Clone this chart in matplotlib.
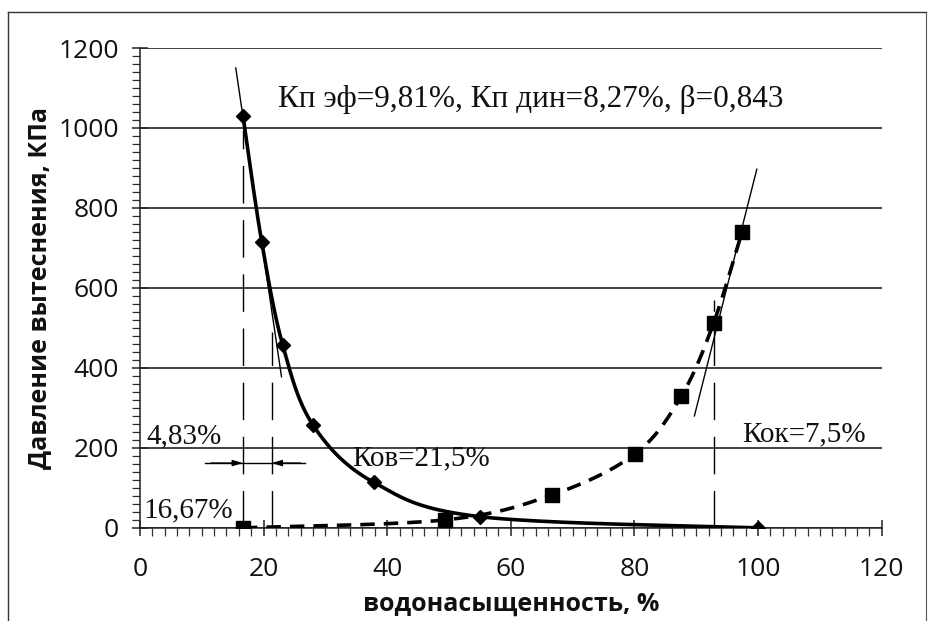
import numpy as np
import matplotlib
matplotlib.use("Agg")
import matplotlib.pyplot as plt
from matplotlib.lines import Line2D

# ---------------- data ----------------
# drainage curve (diamonds)
sw_drain = [16.67, 19.7, 23.1, 28.0, 37.8, 55.0, 100.0]
p_drain = [1030, 715, 457, 257, 114, 28, 0]
# imbibition curve (squares)
sw_imb = [16.67, 49.4, 66.6, 80.1, 87.6, 92.8, 97.4]
p_imb = [0, 20, 82, 185, 330, 512, 740]

x_ticks = [0, 20, 40, 60, 80, 100, 120]
y_ticks = [0, 200, 400, 600, 800, 1000, 1200]

sw_irr = 16.67      # residual water line
sw_kov = 21.3       # Kov line
sw_kok = 92.8       # Kok line

title_txt = "Кп эф=9,81%, Кп дин=8,27%, β=0,843"
xlabel_txt = "водонасыщенность, %"
ylabel_txt = "Давление вытеснения, КПа"


def catmull_rom(xs, ys, n=40):
    P = np.column_stack([xs, ys]).astype(float)
    P = np.vstack([P[0], P, P[-1]])
    out = []
    t = np.linspace(0, 1, n)[:, None]
    for i in range(1, len(P) - 2):
        p0, p1, p2, p3 = P[i - 1], P[i], P[i + 1], P[i + 2]
        seg = 0.5 * ((2 * p1) + (-p0 + p2) * t
                     + (2 * p0 - 5 * p1 + 4 * p2 - p3) * t ** 2
                     + (-p0 + 3 * p1 - 3 * p2 + p3) * t ** 3)
        out.append(seg)
    return np.vstack(out)


SANS = ["Open Sans", "DejaVu Sans"]
SERIF = ["Liberation Serif", "DejaVu Serif"]

fig = plt.figure(figsize=(9.33, 6.21), dpi=100)
ax = fig.add_axes([0.150, 0.150, 0.795, 0.7727])

ax.set_xlim(0, 120)
ax.set_ylim(0, 1200)

# grid
ax.set_yticks(y_ticks)
ax.set_xticks(x_ticks)
ax.yaxis.grid(True, color="#222222", lw=1.2)
ax.set_axisbelow(True)
ax.set_yticks(np.arange(0, 1201, 20), minor=True)
ax.set_xticks(np.arange(0, 121, 2), minor=True)

for s in ["top", "right"]:
    ax.spines[s].set_visible(False)
for s in ["left", "bottom"]:
    ax.spines[s].set_linewidth(1.1)
    ax.spines[s].set_color("#222222")

ax.tick_params(axis="both", which="major", direction="inout", length=12,
               width=1.1, color="#222222", labelsize=19, labelcolor="#111111")
ax.tick_params(axis="both", which="minor", direction="out", length=6,
               width=0.9, color="#333333")
ax.tick_params(axis="y", which="major", pad=9)
ax.tick_params(axis="x", which="major", pad=15)
for lab in ax.get_xticklabels() + ax.get_yticklabels():
    lab.set_family(SANS)

ax.set_xlabel(xlabel_txt, fontsize=18, fontweight="bold", family=SANS,
              labelpad=7, color="#111111")
ax.set_ylabel(ylabel_txt, fontsize=18, fontweight="bold", family=SANS,
              labelpad=5, color="#111111")

# curves
c1 = catmull_rom(sw_drain, p_drain)
ax.plot(c1[:, 0], c1[:, 1], color="black", lw=2.6, solid_capstyle="round",
        zorder=3)
ax.plot(sw_drain, p_drain, ls="none", marker="D", ms=7.5, color="black",
        zorder=4)

c2 = catmull_rom(sw_imb, p_imb)
ax.plot(c2[:, 0], c2[:, 1], color="black", lw=2.6, dashes=(4, 2.5),
        zorder=3)
ax.plot(sw_imb, p_imb, ls="none", marker="s", ms=9.5, color="black",
        zorder=4)

# tangent lines
ax.plot([15.5, 22.9], [1150, 378], color="black", lw=1.0, zorder=3)
ax.plot([89.7, 99.8], [280, 897], color="black", lw=1.0, zorder=3)

# vertical dashed guide lines
for xv, ytop in [(sw_irr, 995), (sw_kov, 490), (sw_kok, 570)]:
    ax.plot([xv, xv], [0, ytop], color="black", lw=1.0, dashes=(27, 12),
            zorder=2)

# arrows
ax.plot([10.5, 26.7], [162, 162], color="black", lw=1.0, zorder=3)
ax.annotate("", xy=(sw_irr, 162), xytext=(11.5, 162),
            arrowprops=dict(arrowstyle="-|>,head_length=0.6,head_width=0.18",
                            color="black", lw=1.0, shrinkA=0, shrinkB=0))
ax.annotate("", xy=(sw_kov, 162), xytext=(26.0, 162),
            arrowprops=dict(arrowstyle="-|>,head_length=0.6,head_width=0.18",
                            color="black", lw=1.0, shrinkA=0, shrinkB=0))

# annotations
ax.text(22.3, 1053, title_txt, fontsize=22.5, family=SERIF, va="baseline",
        ha="left", color="#111111")
ax.text(1.1, 212, "4,83%", fontsize=21, family=SERIF, va="baseline",
        ha="left", color="#111111")
ax.text(0.5, 25, "16,67%", fontsize=21, family=SERIF, va="baseline",
        ha="left", color="#111111", zorder=5)
ax.text(34.3, 155, "Ков=21,5%", fontsize=21, family=SERIF, va="baseline",
        ha="left", color="#111111")
ax.text(97.4, 217, "Кок=7,5%", fontsize=21, family=SERIF, va="baseline",
        ha="left", color="#111111")

# chart area border (scan frame)
W, H = 933, 621
x0, x1, y0 = 8 / W, 926 / W, 1 - 12 / H
fig.add_artist(Line2D([x0, x0], [0, y0], transform=fig.transFigure,
                      color="#333333", lw=1.0))
fig.add_artist(Line2D([x0, x1], [y0, y0], transform=fig.transFigure,
                      color="#333333", lw=1.0))
fig.add_artist(Line2D([x1, x1], [0, y0], transform=fig.transFigure,
                      color="#555555", lw=0.8))

fig.savefig("out.png", dpi=100)
